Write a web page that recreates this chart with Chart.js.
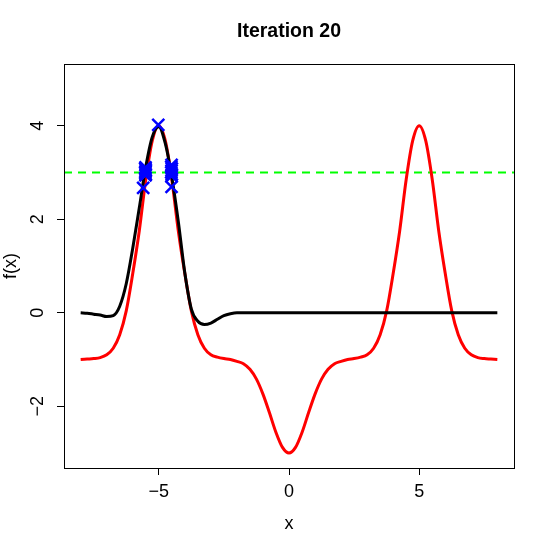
<!DOCTYPE html>
<html>
<head>
<meta charset="utf-8">
<script src="https://cdn.jsdelivr.net/npm/chart.js@4.4.1/dist/chart.umd.min.js"></script>
<style>
  html, body { margin: 0; padding: 0; background: #fff; }
</style>
</head>
<body>
<canvas id="chart" width="548" height="548"></canvas>
<script>
// x grid the curves were read on
const xGrid = [-8, -7.75, -7.5, -7.25, -7, -6.75, -6.5, -6.25, -6, -5.75, -5.5, -5.25, -5,
  -4.75, -4.5, -4.25, -4, -3.75, -3.5, -3.25, -3, -2.75, -2.5, -2.25, -2, -1.75, -1.5, -1.25,
  -1, -0.75, -0.5, -0.25, 0, 0.25, 0.5, 0.75, 1, 1.25, 1.5, 1.75, 2, 2.25, 2.5, 2.75, 3, 3.25,
  3.5, 3.75, 4, 4.25, 4.5, 4.75, 5, 5.25, 5.5, 5.75, 6, 6.25, 6.5, 6.75, 7, 7.25, 7.5, 7.75, 8];

// red curve: true function
const trueValues = [-1.00, -0.99, -0.98, -0.96, -0.90, -0.76, -0.47, 0.04, 0.84, 1.75, 2.85, 3.68, 4.00,
  3.68, 2.85, 1.75, 0.84, 0.04, -0.47, -0.76, -0.90, -0.95, -0.98, -1.00, -1.04, -1.09, -1.21, -1.42,
  -1.74, -2.14, -2.56, -2.88, -3.00, -2.88, -2.56, -2.14, -1.74, -1.42, -1.21, -1.09, -1.04, -1.00, -0.98, -0.95, -0.90, -0.76,
  -0.47, 0.04, 0.84, 1.75, 2.85, 3.68, 4.00, 3.68, 2.85, 1.75, 0.84, 0.04, -0.47, -0.76, -0.90, -0.96, -0.98, -0.99, -1.00];

// black curve: model mean
const meanValues = [0.00, -0.01, -0.03, -0.05, -0.08, -0.06, 0.14, 0.62, 1.38, 2.24, 3.12, 3.76, 3.98,
  3.62, 2.90, 1.95, 0.85, 0.08, -0.18, -0.25, -0.22, -0.14, -0.06, -0.02, 0.00, 0.00, 0.00, 0.00,
  0.00, 0.00, 0.00, 0.00, 0.00, 0.00, 0.00, 0.00, 0.00, 0.00, 0.00, 0.00, 0.00, 0.00, 0.00, 0.00, 0.00, 0.00,
  0.00, 0.00, 0.00, 0.00, 0.00, 0.00, 0.00, 0.00, 0.00, 0.00, 0.00, 0.00, 0.00, 0.00, 0.00, 0.00, 0.00, 0.00, 0.00];

// blue crosses: evaluated points
const sampleX = [-5.02, -5.51, -5.52, -5.50, -5.51, -5.52, -5.50, -5.51, -5.60,
  -4.51, -4.52, -4.50, -4.51, -4.52, -4.50, -4.51, -4.51];
const sampleY = [4.02, 3.11, 3.08, 3.05, 3.02, 2.99, 2.96, 2.94, 2.67,
  3.16, 3.12, 3.08, 3.04, 3.00, 2.96, 2.92, 2.69];

const threshold = 3;
const xLimits = [-8.64, 8.64];
const yLimits = [-3.32, 5.32];
const xTicks = [-5, 0, 5];
const yTicks = [-2, 0, 2, 4];

const fontFamily = '"Liberation Sans", Arial, Helvetica, sans-serif';
const label = v => (v < 0 ? '\u2212' + Math.abs(v) : String(v));
const toPoints = (xs, ys) => xs.map((x, i) => ({x: x, y: ys[i]}));

const frameAndLabels = {
  id: 'frameAndLabels',
  afterDraw: (chart) => {
    const {ctx, chartArea, scales} = chart;
    ctx.save();
    ctx.strokeStyle = '#000';
    ctx.lineWidth = 1;
    ctx.strokeRect(chartArea.left + 0.5, chartArea.top + 0.5,
      chartArea.right - chartArea.left, chartArea.bottom - chartArea.top);

    // y tick labels run along the axis, like base R
    ctx.fillStyle = '#000';
    ctx.font = '18px ' + fontFamily;
    ctx.textAlign = 'center';
    ctx.textBaseline = 'middle';
    yTicks.forEach(v => {
      ctx.save();
      ctx.translate(38, scales.y.getPixelForValue(v));
      ctx.rotate(-Math.PI / 2);
      ctx.fillText(label(v), 0, 0);
      ctx.restore();
    });

    ctx.font = 'bold 19.5px ' + fontFamily;
    ctx.fillText('Iteration 20', (chartArea.left + chartArea.right) / 2, 32);
    ctx.restore();
  }
};

new Chart(document.getElementById('chart'), {
  type: 'scatter',
  data: {
    datasets: [
      {
        label: 'samples',
        data: toPoints(sampleX, sampleY),
        pointStyle: 'crossRot',
        pointRadius: 8.5,
        pointBorderWidth: 2.5,
        borderColor: '#0000ff',
        backgroundColor: '#0000ff',
        order: 0
      },
      {
        label: 'mean',
        data: toPoints(xGrid, meanValues),
        showLine: true,
        pointRadius: 0,
        borderWidth: 3,
        borderColor: '#000000',
        cubicInterpolationMode: 'monotone',
        order: 1
      },
      {
        label: 'f',
        data: toPoints(xGrid, trueValues),
        showLine: true,
        pointRadius: 0,
        borderWidth: 3,
        borderColor: '#ff0000',
        cubicInterpolationMode: 'monotone',
        order: 2
      },
      {
        label: 'threshold',
        data: toPoints(xLimits, [threshold, threshold]),
        showLine: true,
        pointRadius: 0,
        borderWidth: 2,
        borderColor: '#00ff00',
        borderDash: [8, 6],
        order: 3
      }
    ]
  },
  options: {
    responsive: false,
    animation: false,
    layout: { padding: { left: 0, top: 64, right: 34, bottom: 0 } },
    plugins: {
      legend: { display: false },
      tooltip: { enabled: false }
    },
    scales: {
      x: {
        type: 'linear',
        min: xLimits[0],
        max: xLimits[1],
        afterBuildTicks: s => { s.ticks = xTicks.map(v => ({value: v})); },
        afterFit: s => { s.height = 80; },
        border: { display: false },
        grid: { drawOnChartArea: false, tickLength: 7, color: '#000' },
        ticks: {
          callback: v => label(v),
          color: '#000',
          font: { size: 18, family: fontFamily },
          padding: 6,
          maxRotation: 0,
          autoSkip: false
        },
        title: {
          display: true,
          text: 'x',
          color: '#000',
          font: { size: 18, family: fontFamily },
          padding: { top: 0, bottom: 13 }
        }
      },
      y: {
        type: 'linear',
        min: yLimits[0],
        max: yLimits[1],
        afterBuildTicks: s => { s.ticks = yTicks.map(v => ({value: v})); },
        afterFit: s => { s.width = 64; },
        border: { display: false },
        grid: { drawOnChartArea: false, tickLength: 7, color: '#000' },
        ticks: { display: false },
        title: {
          display: true,
          text: 'f(x)',
          color: '#000',
          font: { size: 18, family: fontFamily },
          padding: { top: 0, bottom: 0 }
        }
      }
    }
  },
  plugins: [frameAndLabels]
});
</script>
</body>
</html>
